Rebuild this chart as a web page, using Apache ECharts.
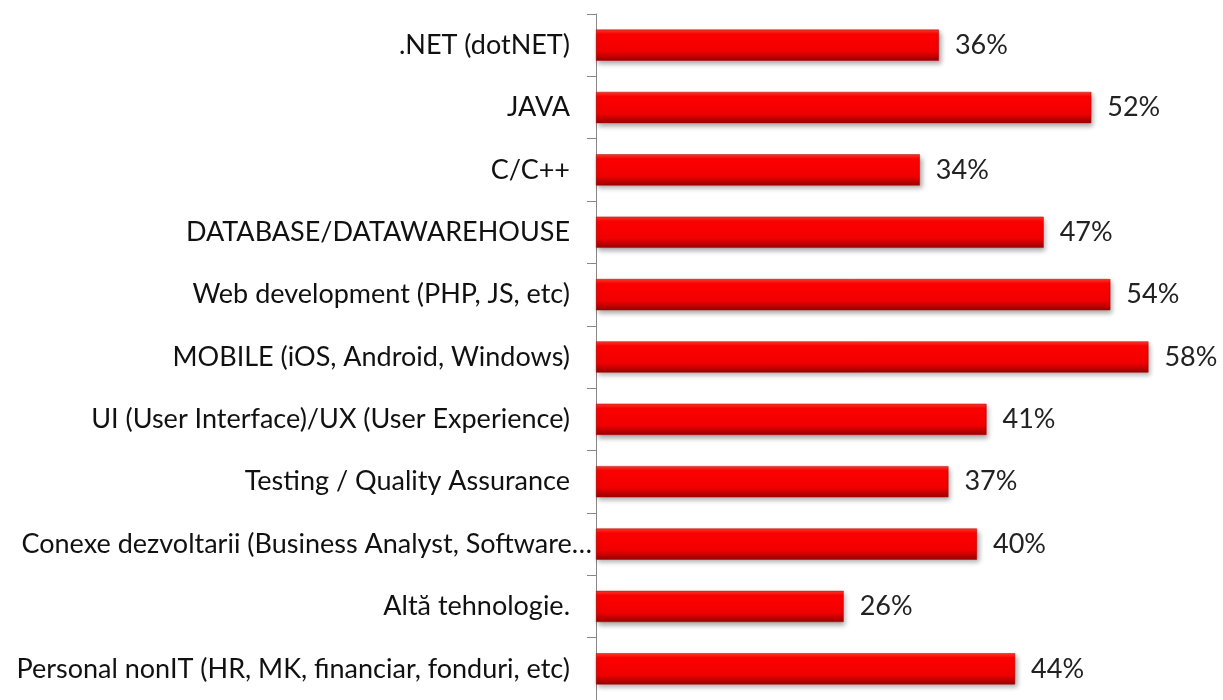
<!DOCTYPE html>
<html>
<head>
<meta charset="utf-8">
<script src="https://cdn.jsdelivr.net/npm/echarts@6/dist/echarts.min.js"></script>
<style>
    html, body { margin: 0; padding: 0; background: #fff; }
    #main { width: 1223px; height: 700px; }
</style>
</head>
<body>
<div id="main"></div>
<script>
// categories top to bottom
var categories = [
    '.NET (dotNET)',
    'JAVA',
    'C/C++',
    'DATABASE/DATAWAREHOUSE',
    'Web development (PHP, JS, etc)',
    'MOBILE (iOS, Android, Windows)',
    'UI (User Interface)/UX (User Experience)',
    'Testing / Quality Assurance',
    'Conexe dezvoltarii (Business Analyst, Software\u2026',
    'Altă tehnologie.',
    'Personal nonIT (HR, MK, financiar, fonduri, etc)'
];
var percents = [36, 52, 34, 47, 54, 58, 41, 37, 40, 26, 44];

var chart = echarts.init(document.getElementById('main'));

var barColor = new echarts.graphic.LinearGradient(0, 0, 0, 1, [
    { offset: 0, color: '#ff3a2a' },
    { offset: 0.15, color: '#ff0000' },
    { offset: 0.7, color: '#f00000' },
    { offset: 1, color: '#980000' }
]);

var option = {
    animation: false,
    grid: { left: 596, top: 14, width: 571.5, height: 691 },
    xAxis: {
        type: 'value',
        min: 0,
        max: 60,
        show: false
    },
    yAxis: {
        type: 'category',
        inverse: true,
        data: categories,
        axisLine: { show: true, lineStyle: { color: '#888', width: 1 } },
        axisTick: { show: true, inside: false, length: 9, lineStyle: { color: '#888', width: 1 } },
        axisLabel: {
            margin: 4,
            fontFamily: 'Lato',
            fontSize: 27,
            color: '#111',
            formatter: function (v) {
                if (v.indexOf('Conexe') === 0) return '{w|' + v + '}';
                return '{n|' + v + '}';
            },
            rich: {
                n: { fontFamily: 'Lato', fontSize: 27, color: '#111', padding: [0, 22, 0, 0] },
                w: { fontFamily: 'Lato', fontSize: 27, color: '#111', padding: [0, 0, 0, 0] }
            }
        }
    },
    series: [
        {
            type: 'bar',
            data: percents,
            barCategoryGap: '50%',
            itemStyle: {
                color: barColor,
                borderColor: '#b00000',
                borderWidth: 0.5,
                shadowColor: 'rgba(0,0,0,0.35)',
                shadowBlur: 5,
                shadowOffsetX: 2,
                shadowOffsetY: 3
            },
            label: {
                show: true,
                position: 'right',
                distance: 16,
                formatter: '{c}%',
                fontFamily: 'Lato',
                fontSize: 27,
                color: '#222'
            }
        }
    ]
};

chart.setOption(option);
</script>
</body>
</html>
